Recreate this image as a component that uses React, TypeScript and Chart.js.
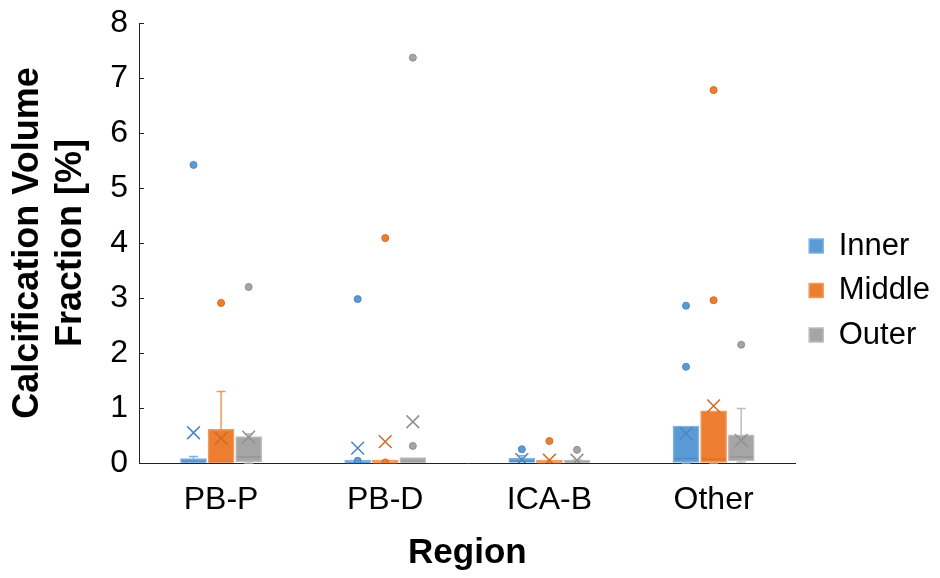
import React, { useEffect, useRef } from "react";
import { Chart, registerables } from "chart.js";

Chart.register(...registerables);

const categories = ["PB-P", "PB-D", "ICA-B", "Other"];
const seriesNames = ["Inner", "Middle", "Outer"];
const seriesColors = ["#5B9BD5", "#ED7D31", "#A5A5A5"];
const seriesBorders = ["#7FB0DE", "#F29A5C", "#BDBDBD"];
const seriesDarkColors = ["#4A86BE", "#D46A22", "#8F8F8F"];

const innerQ1 = [0, 0, 0, 0.01];
const innerMedian = [0.02, 0.005, 0.03, 0.085];
const innerQ3 = [0.08, 0.02, 0.085, 0.67];
const innerMin = [0, 0, 0, 0];
const innerMax = [0.12, 0.03, 0.13, 0.67];
const innerMean = [0.55, 0.27, 0.06, 0.54];
const innerOutliers = [[5.42], [2.98, 0.04], [0.25], [2.86, 1.75]];

const middleQ1 = [0, 0, 0, 0.01];
const middleMedian = [0.02, 0, 0, 0.07];
const middleQ3 = [0.61, 0.01, 0.01, 0.95];
const middleMin = [0, 0, 0, 0];
const middleMax = [1.3, 0.01, 0.01, 0.95];
const middleMean = [0.45, 0.39, 0.05, 1.04];
const middleOutliers = [[2.91], [4.09, 0.01], [0.4], [2.96, 6.78]];

const outerQ1 = [0.02, 0, 0, 0.04];
const outerMedian = [0.11, 0.02, 0.02, 0.11];
const outerQ3 = [0.48, 0.1, 0.04, 0.51];
const outerMin = [0, 0, 0, 0.02];
const outerMax = [0.53, 0.1, 0.06, 0.99];
const outerMean = [0.47, 0.75, 0.05, 0.41];
const outerOutliers = [[3.2], [7.37, 0.31], [0.24], [2.15]];

const yTicks = [0, 1, 2, 3, 4, 5, 6, 7, 8];

const q1s = [innerQ1, middleQ1, outerQ1];
const medians = [innerMedian, middleMedian, outerMedian];
const q3s = [innerQ3, middleQ3, outerQ3];
const mins = [innerMin, middleMin, outerMin];
const maxs = [innerMax, middleMax, outerMax];
const means = [innerMean, middleMean, outerMean];
const outliers = [innerOutliers, middleOutliers, outerOutliers];

const SERIES_OFFSET = 0.168;
const FONT = "'Liberation Sans', Arial, sans-serif";

const boxPlugin = {
  id: "boxWhiskers",
  afterDatasetDraw(chart: any, args: any) {
    const s = args.index;
    if (s > 2) return;
    const meta = chart.getDatasetMeta(s);
    const y = chart.scales.y;
    const ctx = chart.ctx;
    ctx.save();
    meta.data.forEach((el: any, i: number) => {
      const x = el.x;
      const w = el.width;
      const cap = 9;
      const yq1 = y.getPixelForValue(q1s[s][i]);
      const yq3 = y.getPixelForValue(q3s[s][i]);
      const ymin = y.getPixelForValue(mins[s][i]);
      const ymax = y.getPixelForValue(maxs[s][i]);
      const ymed = y.getPixelForValue(medians[s][i]);
      ctx.strokeStyle = seriesBorders[s];
      ctx.lineWidth = 1.5;
      ctx.beginPath();
      if (ymax < yq3 - 0.5) {
        ctx.moveTo(x, yq3);
        ctx.lineTo(x, ymax);
        ctx.moveTo(x - cap / 2, ymax);
        ctx.lineTo(x + cap / 2, ymax);
      }
      if (ymin > yq1 + 0.5) {
        ctx.moveTo(x, yq1);
        ctx.lineTo(x, ymin);
        ctx.moveTo(x - cap / 2, ymin);
        ctx.lineTo(x + cap / 2, ymin);
      }
      ctx.stroke();
      ctx.strokeStyle = seriesDarkColors[s];
      ctx.globalAlpha = 0.8;
      ctx.lineWidth = 1.2;
      ctx.beginPath();
      ctx.moveTo(x - w / 2 + 1, ymed);
      ctx.lineTo(x + w / 2 - 1, ymed);
      ctx.stroke();
      ctx.globalAlpha = 1;
    });
    ctx.restore();
  },
};

const innerTicksPlugin = {
  id: "innerTicks",
  afterDraw(chart: any) {
    const y = chart.scales.y;
    const ctx = chart.ctx;
    const left = chart.chartArea.left;
    ctx.save();
    ctx.strokeStyle = "#222";
    ctx.lineWidth = 1;
    yTicks.forEach((t) => {
      const py = Math.round(y.getPixelForValue(t)) + 0.5;
      ctx.beginPath();
      ctx.moveTo(left, py);
      ctx.lineTo(left + 5, py);
      ctx.stroke();
    });
    ctx.restore();
  },
};

export default function App() {
  const ref = useRef<HTMLCanvasElement | null>(null);
  useEffect(() => {
    if (!ref.current) return;
    const offsets = [-1, 0, 1].map((k) => k * SERIES_OFFSET);
    const barSets = seriesNames.map((name, s) => ({
      type: "bar" as const,
      label: name,
      data: categories.map((_, i) => ({ x: i + offsets[s], y: [q1s[s][i], q3s[s][i]] })),
      backgroundColor: seriesColors[s],
      borderColor: seriesBorders[s],
      borderWidth: 1.5,
      borderSkipped: false,
      minBarLength: 3,
      barThickness: 26,
      grouped: false,
      order: 2,
    }));
    const meanSets = seriesNames.map((name, s) => ({
      type: "scatter" as const,
      label: name + " mean",
      data: categories.map((_, i) => ({ x: i + offsets[s], y: means[s][i] })),
      pointStyle: "crossRot",
      pointRadius: 9,
      borderColor: seriesDarkColors[s],
      backgroundColor: seriesDarkColors[s],
      pointBorderWidth: 1.5,
      order: 0,
    }));
    const outlierSets = seriesNames.map((name, s) => ({
      type: "scatter" as const,
      label: name + " outliers",
      data: categories.flatMap((_, i) =>
        outliers[s][i].map((v) => ({ x: i + offsets[s], y: v }))
      ),
      pointStyle: "circle",
      pointRadius: 3.5,
      borderColor: seriesDarkColors[s],
      backgroundColor: seriesColors[s],
      pointBorderWidth: 1,
      order: 1,
    }));

    const chart = new Chart(ref.current, {
      type: "bar",
      data: {
        datasets: [...barSets, ...meanSets, ...outlierSets] as any,
      },
      plugins: [boxPlugin, innerTicksPlugin],
      options: {
        animation: false,
        responsive: false,
        maintainAspectRatio: false,
        layout: { padding: { top: 23, right: 0, bottom: 20, left: 0 } },
        plugins: {
          legend: {
            position: "right",
            labels: {
              filter: (item: any) => item.datasetIndex < 3,
              boxWidth: 14,
              boxHeight: 14,
              color: "#000",
              padding: 13.5,
              font: { size: 31, family: FONT },
            },
          },
          tooltip: { enabled: false },
        },
        scales: {
          x: {
            type: "linear",
            min: -0.5,
            max: categories.length - 0.5,
            offset: false,
            grid: { display: true, offset: false, drawOnChartArea: false, drawTicks: false },
            border: { display: true, color: "#222", width: 1 },
            afterBuildTicks: (scale: any) => {
              scale.ticks = categories.map((_, i) => ({ value: i }));
            },
            ticks: {
              color: "#000",
              padding: 18,
              autoSkip: false,
              maxRotation: 0,
              font: { size: 32, family: FONT },
              callback: (v: any) => categories[Math.round(v)] ?? "",
            },
            title: {
              display: true,
              text: "Region",
              color: "#000",
              padding: { top: 14, bottom: -16 },
              font: { size: 35, weight: "bold", family: FONT },
            },
            afterFit: (scale: any) => {
              scale.height = 578 - 463 - 20;
              scale.paddingLeft = 0;
              scale.paddingRight = 0;
            },
          },
          y: {
            min: 0,
            max: 8,
            grid: { display: true, drawOnChartArea: false, drawTicks: false },
            border: { display: true, color: "#222", width: 1 },
            ticks: {
              stepSize: 1,
              color: "#000",
              padding: 11,
              font: { size: 32, family: FONT },
            },
            title: {
              display: true,
              text: ["Calcification Volume", "Fraction [%]"],
              color: "#000",
              padding: { top: 6, bottom: 4 },
              font: { size: 36, weight: "bold", family: FONT, lineHeight: 1.2 },
            },
            afterFit: (scale: any) => {
              scale.width = 139;
              scale.paddingTop = 0;
              scale.paddingBottom = 0;
            },
          },
        },
      } as any,
    });
    return () => chart.destroy();
  }, []);

  return (
    <div style={{ position: "fixed", left: 0, top: 0, width: 940, height: 578, background: "#fff" }}>
      <canvas ref={ref} width={940} height={578} style={{ width: 940, height: 578, display: "block" }} />
    </div>
  );
}
